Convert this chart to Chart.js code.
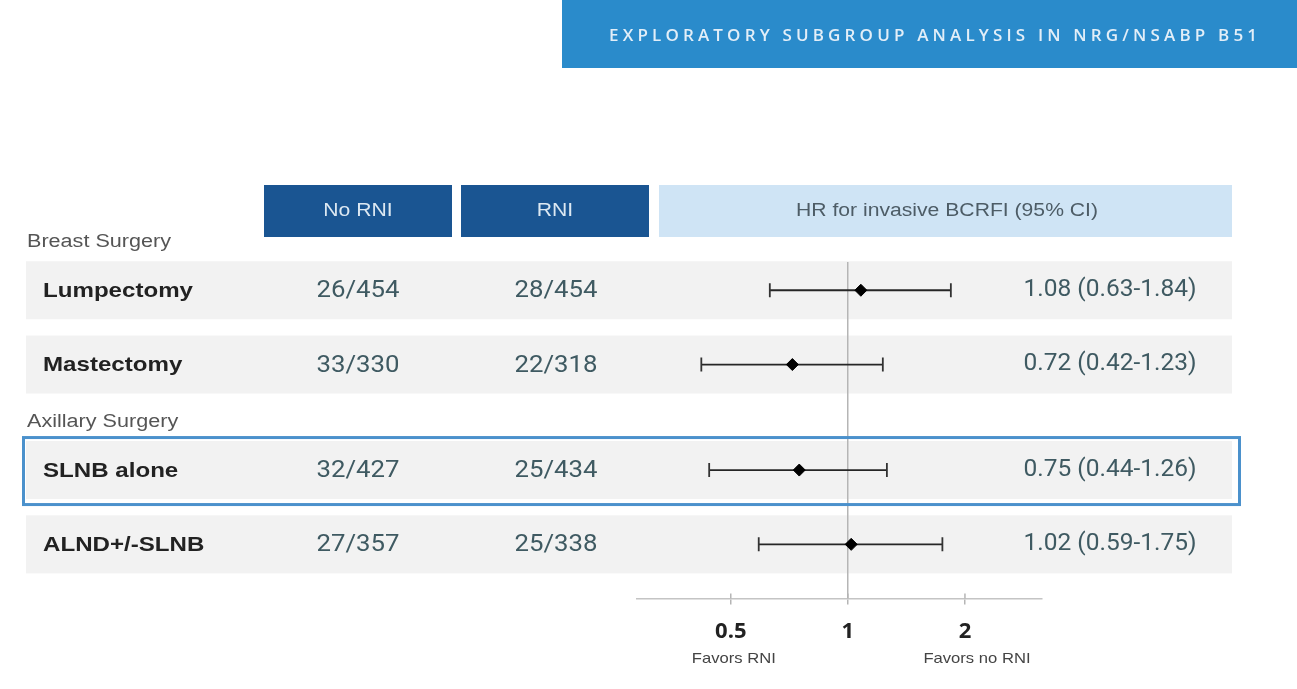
<!DOCTYPE html>
<html><head><meta charset="utf-8">
<script src="https://cdn.jsdelivr.net/npm/chart.js@4.4.1/dist/chart.umd.min.js"></script>
<style>html,body{margin:0;padding:0;background:#fff;}canvas{display:block;}</style>
</head><body>
<canvas id="c" width="1297" height="689"></canvas>
<script>
const title = 'EXPLORATORY SUBGROUP ANALYSIS IN NRG/NSABP B51';
const columnHeaders = ['No RNI', 'RNI', 'HR for invasive BCRFI (95% CI)'];
const groups = ['Breast Surgery', 'Axillary Surgery'];
const categories = ['Lumpectomy', 'Mastectomy', 'SLNB alone', 'ALND+/-SLNB'];
const groupOf = [0, 0, 1, 1];
const noRni = ['26/454', '33/330', '32/427', '27/357'];
const rni = ['28/454', '22/318', '25/434', '25/338'];
const hr = [1.08, 0.72, 0.75, 1.02];
const ciLow = [0.63, 0.42, 0.44, 0.59];
const ciHigh = [1.84, 1.23, 1.26, 1.75];
const xTicks = [0.5, 1, 2];
const favorLabels = ['Favors RNI', 'Favors no RNI'];
const highlighted = 'SLNB alone';

// layout slot for each row: index plus a gap before each new group
const rowY = categories.map((c, i) => i + groupOf[i] * 0.42);
const hrText = categories.map((c, i) => hr[i].toFixed(2) + ' (' + ciLow[i].toFixed(2) + '-' + ciHigh[i].toFixed(2) + ')');

const ciDatasets = categories.map((c, i) => ({
  label: c + ' CI',
  data: [{x: ciLow[i], y: rowY[i]}, {x: ciHigh[i], y: rowY[i]}],
  showLine: true,
  borderColor: '#262626',
  borderWidth: 1.8,
  pointStyle: 'line',
  rotation: 90,
  pointRadius: 7,
  pointBorderColor: '#333',
  pointBorderWidth: 1.8,
  order: 2
}));
const hrDataset = {
  label: 'HR',
  data: categories.map((c, i) => ({x: hr[i], y: rowY[i]})),
  pointStyle: 'rectRot',
  pointRadius: 6,
  backgroundColor: '#000',
  borderColor: '#000',
  borderWidth: 1,
  order: 1
};

function styleScale(ctx, font, ref, target) {
  ctx.save(); ctx.font = font; ctx.letterSpacing = '0px';
  const w = ctx.measureText(ref).width; ctx.restore();
  return target / w;
}
function txt(ctx, s, x, y, font, color, align, sx, spacing) {
  ctx.save();
  ctx.font = font;
  ctx.fillStyle = color;
  ctx.textAlign = align || 'left';
  ctx.textBaseline = 'middle';
  ctx.letterSpacing = (spacing || 0) + 'px';
  ctx.translate(x, y);
  ctx.scale(sx || 1, 1);
  ctx.fillText(s, 0, 0);
  ctx.restore();
}

const F = {
  title: '600 17px "Open Sans"',
  head: '18px "Liberation Sans"',
  group: '18px "Liberation Sans"',
  label: 'bold 21px "Liberation Sans"',
  count: '24px Roboto',
  hr: '23px Roboto',
  favor: '15px "Liberation Sans"'
};

const tablePlugin = {
  id: 'table',
  beforeDraw(chart) {
    const ctx = chart.ctx;
    const ys = chart.scales.y;
    ctx.save();
    ctx.fillStyle = '#fff';
    ctx.fillRect(0, 0, chart.width, chart.height);
    ctx.fillStyle = '#2a8bcb';
    ctx.fillRect(562, 0, 735, 68);
    ctx.font = F.title;
    const w0 = ctx.measureText(title).width;
    const sp = (648 - w0) / (title.length - 1);
    ctx.restore();
    txt(ctx, title, 609, 36, F.title, '#e2eef8', 'left', 1, sp);
    ctx.save();
    ctx.fillStyle = '#1a5592';
    ctx.fillRect(264, 185, 188, 52);
    ctx.fillRect(461, 185, 188, 52);
    ctx.fillStyle = '#cfe4f5';
    ctx.fillRect(659, 185, 573, 52);
    ctx.restore();
    const sh = styleScale(ctx, F.head, columnHeaders[2], 302);
    txt(ctx, columnHeaders[0], 358, 211, F.head, '#dce8f2', 'center', sh);
    txt(ctx, columnHeaders[1], 555, 211, F.head, '#dce8f2', 'center', sh);
    txt(ctx, columnHeaders[2], 947, 211, F.head, '#4d5c66', 'center', sh);
    const sg = styleScale(ctx, F.group, groups[0], 144);
    categories.forEach((c, i) => {
      const py = ys.getPixelForValue(rowY[i]);
      ctx.save();
      ctx.fillStyle = '#f2f2f2';
      ctx.fillRect(26, py - 29, 1206, 58);
      ctx.restore();
      if (i === 0 || groupOf[i] !== groupOf[i - 1]) {
        txt(ctx, groups[groupOf[i]], 27, py - 48, F.group, '#555', 'left', sg);
      }
    });
  },
  afterDraw(chart) {
    const ctx = chart.ctx;
    const ys = chart.scales.y;
    const xs = chart.scales.x;
    const sl = styleScale(ctx, F.label, categories[0], 150);
    const sc = styleScale(ctx, F.count, noRni[0], 83);
    const shr = styleScale(ctx, F.hr, hrText[0], 173);
    const sf = styleScale(ctx, F.favor, favorLabels[0], 84);
    categories.forEach((c, i) => {
      const py = ys.getPixelForValue(rowY[i]);
      if (c === highlighted) {
        ctx.save();
        ctx.strokeStyle = '#4b91cc';
        ctx.lineWidth = 3;
        ctx.strokeRect(23.5, py - 32.5, 1216, 67);
        ctx.restore();
      }
      txt(ctx, c, 43, py + 1, F.label, '#222', 'left', sl);
      txt(ctx, noRni[i], 358, py + 1, F.count, '#3f5a62', 'center', sc);
      txt(ctx, rni[i], 556, py + 1, F.count, '#3f5a62', 'center', sc);
      txt(ctx, hrText[i], 1110, py, F.hr, '#3f5a62', 'center', shr);
    });
    // small tick stubs above the axis line
    ctx.save();
    ctx.strokeStyle = '#b5b5b5';
    ctx.lineWidth = 1.5;
    xTicks.forEach(v => {
      const px = xs.getPixelForValue(v);
      ctx.beginPath();
      ctx.moveTo(px, xs.top - 5);
      ctx.lineTo(px, xs.top);
      ctx.stroke();
    });
    ctx.restore();
    txt(ctx, favorLabels[0], xs.getPixelForValue(xTicks[0]) + 3, 659, F.favor, '#444', 'center', sf);
    txt(ctx, favorLabels[1], xs.getPixelForValue(xTicks[2]) + 12, 659, F.favor, '#444', 'center', sf);
  }
};

new Chart(document.getElementById('c'), {
  type: 'scatter',
  data: { datasets: [...ciDatasets, hrDataset] },
  options: {
    responsive: false,
    devicePixelRatio: 1,
    animation: false,
    layout: { padding: { left: 637, right: 255, top: 262, bottom: 30 } },
    plugins: { legend: { display: false }, tooltip: { enabled: false } },
    scales: {
      x: {
        type: 'logarithmic',
        min: 0.287,
        max: 3.156,
        afterBuildTicks: (s) => { s.ticks = xTicks.map(v => ({ value: v })); },
        ticks: {
          autoSkip: false,
          maxRotation: 0,
          padding: 14,
          color: '#222',
          font: { family: '"Open Sans"', weight: 'bold', size: 22 },
          callback: (v) => String(v)
        },
        grid: {
          drawOnChartArea: true,
          color: (c) => (c.tick && c.tick.value === 1 ? '#b5b5b5' : 'rgba(0,0,0,0)'),
          tickColor: '#b5b5b5',
          tickLength: 6,
          lineWidth: 1.5
        },
        border: { display: true, color: '#c4c4c4', width: 1.5 }
      },
      y: {
        type: 'linear',
        display: false,
        reverse: true,
        min: -0.38,
        max: 4.15
      }
    }
  },
  plugins: [tablePlugin]
});
</script>
</body></html>
